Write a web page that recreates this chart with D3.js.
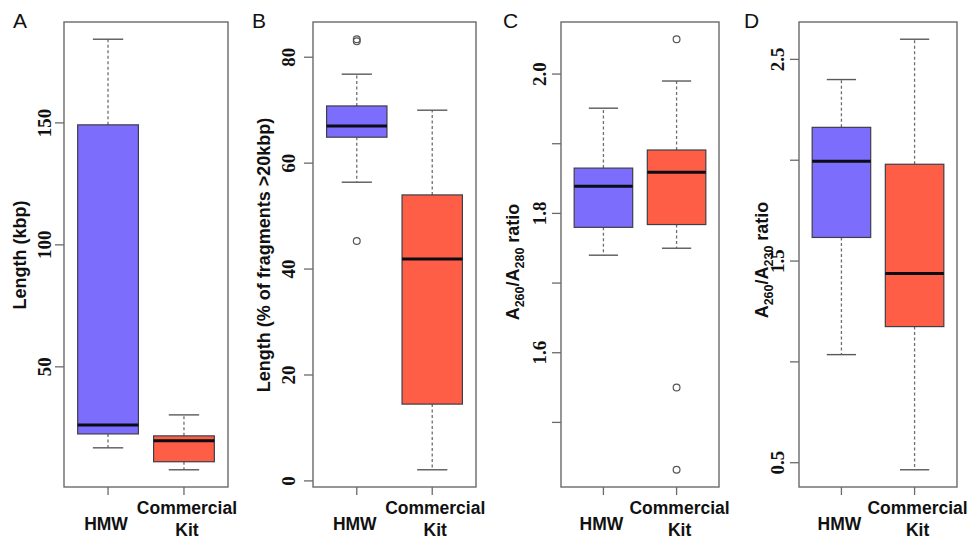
<!DOCTYPE html>
<html>
<head>
<meta charset="utf-8">
<script src="https://cdn.jsdelivr.net/npm/d3@7"></script>
<style>
  body { margin: 0; background: #fff; }
  text { fill: #111; }
</style>
</head>
<body>
<svg id="chart" width="974" height="539"></svg>
<script>
// Groups compared in every panel
const groups = ["HMW", "Commercial Kit"];

// Box statistics: [lower whisker, Q1, median, Q3, upper whisker]
const lengthKbpHMW = [16.8, 22.5, 26.2, 149.2, 184.3];
const lengthKbpKit = [7.8, 11.1, 19.7, 21.7, 30.3];
const lengthKbpOutHMW = [];
const lengthKbpOutKit = [];

const pct20HMW = [56.4, 64.9, 67.0, 70.8, 76.8];
const pct20Kit = [2.1, 14.5, 41.9, 54.0, 70.0];
const pct20OutHMW = [45.3, 83.0, 83.4];
const pct20OutKit = [];

const r280HMW = [1.740, 1.780, 1.839, 1.865, 1.951];
const r280Kit = [1.750, 1.784, 1.859, 1.891, 1.990];
const r280OutHMW = [];
const r280OutKit = [2.050, 1.550, 1.432];

const r230HMW = [1.036, 1.617, 1.995, 2.163, 2.400];
const r230Kit = [0.465, 1.175, 1.438, 1.980, 2.600];
const r230OutHMW = [];
const r230OutKit = [];

// Axis ticks and which of them carry a label
const ticksA = [50, 100, 150];
const labelsA = [50, 100, 150];
const ticksB = [0, 20, 40, 60, 80];
const labelsB = [0, 20, 40, 60, 80];
const ticksC = [1.5, 1.6, 1.7, 1.8, 1.9, 2.0];
const labelsC = [1.6, 1.8, 2.0];
const ticksD = [0.5, 1.0, 1.5, 2.0, 2.5];
const labelsD = [0.5, 1.5, 2.5];

const panelLetters = ["A", "B", "C", "D"];

const colors = ["#7d6dfc", "#fd5e45"];

const panels = [
  { letter: panelLetters[0], stats: [lengthKbpHMW, lengthKbpKit], out: [lengthKbpOutHMW, lengthKbpOutKit],
    ticks: ticksA, labels: labelsA, fmt: d3.format("d"),
    title: [{t: "Length (kbp)"}], titleY: 255,
    x0: 64, x1: 228, titleX: 20, tickX: 44, letterX: 13 },
  { letter: panelLetters[1], stats: [pct20HMW, pct20Kit], out: [pct20OutHMW, pct20OutKit],
    ticks: ticksB, labels: labelsB, fmt: d3.format("d"),
    title: [{t: "Length (% of fragments >20kbp)"}], titleY: 255,
    x0: 313, x1: 476, titleX: 264, tickX: 288, letterX: 252 },
  { letter: panelLetters[2], stats: [r280HMW, r280Kit], out: [r280OutHMW, r280OutKit],
    ticks: ticksC, labels: labelsC, fmt: d3.format(".1f"),
    title: [{t: "A"}, {t: "260", sub: true}, {t: "/A"}, {t: "280", sub: true}, {t: " ratio"}], titleY: 262,
    x0: 561, x1: 719, titleX: 513, tickX: 539, letterX: 503 },
  { letter: panelLetters[3], stats: [r230HMW, r230Kit], out: [r230OutHMW, r230OutKit],
    ticks: ticksD, labels: labelsD, fmt: d3.format(".1f"),
    title: [{t: "A"}, {t: "260", sub: true}, {t: "/A"}, {t: "230", sub: true}, {t: " ratio"}], titleY: 260,
    x0: 799, x1: 957, titleX: 762, tickX: 777, letterX: 744 }
];

const svg = d3.select("#chart");
const plotTop = 22, plotBottom = 487;

panels.forEach(p => {
  const g = svg.append("g");

  // y domain: full data range padded by 4% on each side
  const all = p.stats.flat().concat(p.out.flat());
  const [lo, hi] = d3.extent(all);
  const pad = (hi - lo) * 0.04;
  const y = d3.scaleLinear().domain([lo - pad, hi + pad]).range([plotBottom, plotTop]);

  // x positions 1..n over [0.5, n+0.5], padded by 4%
  const n = groups.length;
  const xpad = n * 0.04;
  const x = d3.scaleLinear().domain([0.5 - xpad, n + 0.5 + xpad]).range([p.x0, p.x1]);
  const halfBox = 0.4, halfCap = 0.2;

  // Whiskers, caps, boxes, medians
  p.stats.forEach((s, i) => {
    const cx = x(i + 1);
    const [wl, q1, med, q3, wh] = s;
    const bx0 = x(i + 1 - halfBox), bx1 = x(i + 1 + halfBox);
    const cx0 = x(i + 1 - halfCap), cx1 = x(i + 1 + halfCap);

    g.append("line").attr("x1", cx).attr("x2", cx).attr("y1", y(q3)).attr("y2", y(wh))
      .attr("stroke", "#6e6e6e").attr("stroke-width", 1.3).attr("stroke-dasharray", "3,2.5");
    g.append("line").attr("x1", cx).attr("x2", cx).attr("y1", y(q1)).attr("y2", y(wl))
      .attr("stroke", "#6e6e6e").attr("stroke-width", 1.3).attr("stroke-dasharray", "3,2.5");
    g.append("line").attr("x1", cx0).attr("x2", cx1).attr("y1", y(wh)).attr("y2", y(wh))
      .attr("stroke", "#5a5a5a").attr("stroke-width", 1.4);
    g.append("line").attr("x1", cx0).attr("x2", cx1).attr("y1", y(wl)).attr("y2", y(wl))
      .attr("stroke", "#5a5a5a").attr("stroke-width", 1.4);

    g.append("rect").attr("x", bx0).attr("y", y(q3))
      .attr("width", bx1 - bx0).attr("height", y(q1) - y(q3))
      .attr("fill", colors[i]).attr("stroke", "#3e3e48").attr("stroke-width", 1.2);
    g.append("line").attr("x1", bx0).attr("x2", bx1).attr("y1", y(med)).attr("y2", y(med))
      .attr("stroke", "#0c0c14").attr("stroke-width", 3);

    p.out[i].forEach(v => {
      g.append("circle").attr("cx", cx).attr("cy", y(v)).attr("r", 3.4)
        .attr("fill", "none").attr("stroke", "#555").attr("stroke-width", 1.2);
    });
  });

  // Plot frame
  g.append("rect").attr("x", p.x0).attr("y", plotTop)
    .attr("width", p.x1 - p.x0).attr("height", plotBottom - plotTop)
    .attr("fill", "none").attr("stroke", "#6a6a6a").attr("stroke-width", 1.4);

  // y axis ticks and labels
  p.ticks.forEach(t => {
    g.append("line").attr("x1", p.x0 - 9).attr("x2", p.x0).attr("y1", y(t)).attr("y2", y(t))
      .attr("stroke", "#6a6a6a").attr("stroke-width", 1.3);
  });
  p.labels.forEach(t => {
    g.append("text")
      .attr("transform", `translate(${p.tickX},${y(t)}) rotate(-90)`)
      .attr("text-anchor", "middle").attr("dominant-baseline", "central")
      .style("font-family", "'Liberation Serif', 'DejaVu Serif', serif")
      .style("font-size", "19px").style("font-weight", "bold")
      .text(p.fmt(t));
  });

  // x axis ticks and group labels
  groups.forEach((name, i) => {
    const cx = x(i + 1);
    g.append("line").attr("x1", cx).attr("x2", cx).attr("y1", plotBottom).attr("y2", plotBottom + 8)
      .attr("stroke", "#6a6a6a").attr("stroke-width", 1.3);
    const words = name.split(" ");
    const lbl = g.append("text").attr("text-anchor", "middle")
      .style("font-family", "'Liberation Sans', Arial, sans-serif")
      .style("font-size", "17.5px").style("font-weight", "bold");
    if (words.length === 1) {
      lbl.attr("x", cx - 2).attr("y", 530).text(name);
    } else {
      lbl.append("tspan").attr("x", cx + 3).attr("y", 514).text(words[0]);
      lbl.append("tspan").attr("x", cx + 3).attr("y", 536).text(words.slice(1).join(" "));
    }
  });

  // Axis title (rotated), with subscripts where needed
  const title = g.append("text")
    .attr("transform", `translate(${p.titleX},${p.titleY}) rotate(-90)`)
    .attr("text-anchor", "middle").attr("dominant-baseline", "central")
    .style("font-family", "'Liberation Sans', Arial, sans-serif")
    .style("font-size", "18px").style("font-weight", "bold");
  p.title.forEach(part => {
    const ts = title.append("tspan").text(part.t);
    if (part.sub) ts.attr("baseline-shift", "sub").style("font-size", "12.5px");
  });

  // Panel letter
  g.append("text").attr("x", p.letterX).attr("y", 28)
    .style("font-family", "'Liberation Sans', Arial, sans-serif")
    .style("font-size", "21px")
    .text(p.letter);
});
</script>
</body>
</html>
